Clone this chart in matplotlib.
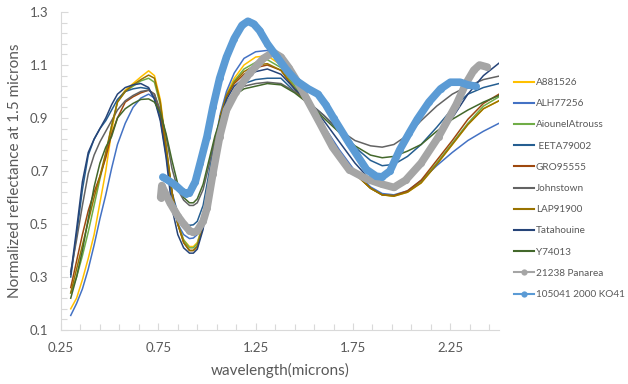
import matplotlib
matplotlib.use("Agg")
import matplotlib.pyplot as plt
from matplotlib.lines import Line2D

# wavelength grid (microns) shared by the nine meteorite spectra
wl = [0.30, 0.33, 0.36, 0.39, 0.42, 0.45, 0.48, 0.51, 0.54, 0.58,
      0.62, 0.66, 0.70, 0.73, 0.76, 0.79, 0.82, 0.85, 0.88, 0.91,
      0.93, 0.95, 0.98, 1.01, 1.04, 1.07, 1.10, 1.14, 1.19, 1.25,
      1.31, 1.38, 1.45, 1.52, 1.60, 1.68, 1.76, 1.84, 1.90, 1.96,
      2.03, 2.10, 2.18, 2.26, 2.34, 2.42, 2.50]

a881526 = [0.18, 0.22, 0.29, 0.37, 0.46, 0.58, 0.70, 0.85, 0.965, 1.005,
           1.03, 1.055, 1.078, 1.06, 0.97, 0.80, 0.62, 0.50, 0.44, 0.415,
           0.415, 0.43, 0.50, 0.64, 0.79, 0.91, 0.99, 1.05, 1.10, 1.13,
           1.135, 1.10, 1.02, 0.95, 0.86, 0.77, 0.69, 0.635, 0.61, 0.605,
           0.62, 0.655, 0.725, 0.80, 0.875, 0.935, 0.965]
alh77256 = [0.155, 0.20, 0.255, 0.33, 0.42, 0.52, 0.61, 0.71, 0.80, 0.88,
            0.94, 0.975, 0.99, 0.975, 0.90, 0.76, 0.60, 0.50, 0.46, 0.445,
            0.447, 0.46, 0.53, 0.67, 0.81, 0.92, 1.00, 1.07, 1.125, 1.15,
            1.155, 1.12, 1.03, 0.96, 0.87, 0.78, 0.70, 0.64, 0.615, 0.61,
            0.625, 0.665, 0.72, 0.77, 0.815, 0.85, 0.88]
aiounel = [0.24, 0.30, 0.38, 0.47, 0.57, 0.67, 0.76, 0.87, 0.96, 1.00,
           1.02, 1.04, 1.05, 1.035, 0.95, 0.79, 0.62, 0.50, 0.44, 0.41,
           0.41, 0.425, 0.50, 0.65, 0.80, 0.91, 0.98, 1.04, 1.085, 1.11,
           1.12, 1.09, 1.02, 0.95, 0.86, 0.77, 0.69, 0.635, 0.61, 0.607,
           0.623, 0.66, 0.73, 0.805, 0.88, 0.945, 0.98]
eeta79002 = [0.30, 0.46, 0.63, 0.76, 0.82, 0.86, 0.89, 0.93, 0.97, 1.00,
             1.01, 1.015, 1.01, 0.975, 0.90, 0.77, 0.62, 0.54, 0.505, 0.495,
             0.497, 0.51, 0.57, 0.69, 0.81, 0.90, 0.96, 1.00, 1.03, 1.045,
             1.05, 1.05, 1.00, 0.96, 0.91, 0.85, 0.79, 0.74, 0.72, 0.725,
             0.755, 0.80, 0.865, 0.935, 0.99, 1.015, 1.03]
gro95555 = [0.26, 0.36, 0.46, 0.55, 0.62, 0.68, 0.75, 0.84, 0.90, 0.96,
            0.98, 0.995, 1.005, 0.99, 0.92, 0.78, 0.62, 0.50, 0.43, 0.40,
            0.40, 0.415, 0.49, 0.64, 0.79, 0.91, 0.98, 1.03, 1.065, 1.09,
            1.10, 1.08, 1.01, 0.95, 0.86, 0.77, 0.69, 0.635, 0.61, 0.607,
            0.625, 0.665, 0.74, 0.815, 0.895, 0.955, 0.99]
johnstown = [0.32, 0.44, 0.57, 0.69, 0.76, 0.81, 0.85, 0.89, 0.93, 0.965,
             0.985, 1.00, 1.005, 0.99, 0.93, 0.83, 0.71, 0.63, 0.59, 0.57,
             0.57, 0.58, 0.63, 0.72, 0.82, 0.90, 0.95, 0.99, 1.02, 1.03,
             1.035, 1.03, 1.00, 0.96, 0.91, 0.855, 0.815, 0.795, 0.79, 0.80,
             0.835, 0.89, 0.945, 0.99, 1.02, 1.045, 1.058]
lap91900 = [0.24, 0.33, 0.42, 0.51, 0.60, 0.68, 0.77, 0.87, 0.96, 1.00,
            1.025, 1.045, 1.062, 1.05, 0.96, 0.79, 0.62, 0.50, 0.43, 0.40,
            0.40, 0.415, 0.49, 0.64, 0.79, 0.91, 0.985, 1.035, 1.075, 1.10,
            1.105, 1.08, 1.01, 0.95, 0.86, 0.77, 0.69, 0.635, 0.61, 0.605,
            0.62, 0.655, 0.725, 0.80, 0.875, 0.935, 0.965]
tatahouine = [0.31, 0.48, 0.66, 0.77, 0.82, 0.86, 0.90, 0.95, 0.99, 1.015,
              1.025, 1.03, 1.015, 0.97, 0.89, 0.75, 0.56, 0.46, 0.41, 0.39,
              0.39, 0.405, 0.48, 0.63, 0.78, 0.90, 0.97, 1.02, 1.05, 1.075,
              1.085, 1.065, 1.01, 0.96, 0.89, 0.81, 0.73, 0.665, 0.64, 0.64,
              0.67, 0.73, 0.82, 0.90, 0.99, 1.06, 1.107]
y74013 = [0.22, 0.30, 0.40, 0.52, 0.64, 0.73, 0.79, 0.83, 0.90, 0.935,
          0.955, 0.97, 0.972, 0.96, 0.92, 0.84, 0.74, 0.65, 0.60, 0.58,
          0.58, 0.595, 0.65, 0.74, 0.83, 0.90, 0.95, 0.985, 1.01, 1.02,
          1.03, 1.025, 0.995, 0.955, 0.90, 0.845, 0.795, 0.76, 0.75, 0.755,
          0.775, 0.80, 0.85, 0.895, 0.93, 0.96, 0.985]

# asteroid spectra, each with its own wavelengths
panarea_wl = [0.762, 0.768, 0.78, 0.81, 0.85, 0.88, 0.91, 0.93, 0.95, 0.98,
              1.00, 1.03, 1.065, 1.10, 1.15, 1.22, 1.29, 1.34, 1.38, 1.42,
              1.47, 1.51, 1.58, 1.645, 1.73, 1.82, 1.90, 1.96, 2.02, 2.10,
              2.19, 2.28, 2.33, 2.37, 2.40, 2.44]
panarea = [0.60, 0.645, 0.625, 0.58, 0.53, 0.50, 0.475, 0.468, 0.475, 0.51,
           0.56, 0.69, 0.83, 0.93, 1.00, 1.07, 1.125, 1.148, 1.13, 1.09,
           1.03, 0.975, 0.88, 0.79, 0.705, 0.67, 0.65, 0.638, 0.665, 0.73,
           0.83, 0.95, 1.03, 1.08, 1.10, 1.092]
ko41_wl = [0.773, 0.80, 0.84, 0.87, 0.89, 0.91, 0.94, 0.965, 1.00, 1.03,
           1.065, 1.10, 1.14, 1.18, 1.21, 1.24, 1.27, 1.31, 1.36, 1.41,
           1.46, 1.52, 1.57, 1.61, 1.65, 1.73, 1.82, 1.87, 1.90, 1.94,
           1.99, 2.04, 2.08, 2.14, 2.20, 2.25, 2.30, 2.34, 2.38]
ko41 = [0.677, 0.665, 0.645, 0.625, 0.615, 0.617, 0.66, 0.73, 0.83, 0.94,
        1.05, 1.13, 1.20, 1.25, 1.265, 1.255, 1.23, 1.18, 1.13, 1.08,
        1.04, 1.01, 0.99, 0.95, 0.90, 0.805, 0.705, 0.68, 0.678, 0.70,
        0.78, 0.845, 0.895, 0.96, 1.01, 1.035, 1.035, 1.025, 1.02]

meteorites = [
    ("A881526", a881526, "#FFC000"),
    ("ALH77256", alh77256, "#4472C4"),
    ("AiounelAtrouss", aiounel, "#70AD47"),
    (" EETA79002", eeta79002, "#255E91"),
    ("GRO95555", gro95555, "#9E480E"),
    ("Johnstown", johnstown, "#636363"),
    ("LAP91900", lap91900, "#997300"),
    ("Tatahouine", tatahouine, "#264478"),
    ("Y74013", y74013, "#43682B"),
]
asteroids = [
    ("21238 Panarea", panarea_wl, panarea, "#A5A5A5"),
    ("105041 2000 KO41", ko41_wl, ko41, "#5B9BD5"),
]

plt.rcParams['font.family'] = ['Lato', 'DejaVu Sans']
txt = "#595959"

fig = plt.figure(figsize=(6.28, 3.84), dpi=100)
ax = fig.add_axes([61 / 628, 1 - 330 / 384, 438 / 628, 318 / 384])

handles = []
for name, vals, col in meteorites:
    ax.plot(wl, vals, color=col, lw=1.1)
    handles.append(Line2D([], [], color=col, lw=1.5, label=name))
for name, x, vals, col in asteroids:
    ax.plot(x, vals, color=col, lw=5.5, marker='o', markersize=5,
            markeredgewidth=0, solid_capstyle='round', solid_joinstyle='round')
    handles.append(Line2D([], [], color=col, lw=1.5, marker='o',
                          markersize=4.5, markeredgewidth=0, label=name))

ax.set_xlim(0.25, 2.5)
ax.set_ylim(0.1, 1.3)
ax.set_xticks([0.25, 0.75, 1.25, 1.75, 2.25])
ax.set_xticklabels(["0.25", "0.75", "1.25", "1.75", "2.25"])
ax.set_xticks([0.35, 0.45, 0.55, 0.65, 0.85, 0.95, 1.05, 1.15, 1.35, 1.45,
               1.55, 1.65, 1.85, 1.95, 2.05, 2.15, 2.35, 2.45], minor=True)
ax.set_yticks([0.1, 0.3, 0.5, 0.7, 0.9, 1.1, 1.3])
ax.set_yticklabels(["0.1", "0.3", "0.5", "0.7", "0.9", "1.1", "1.3"])
ax.set_yticks([0.14, 0.18, 0.22, 0.26, 0.34, 0.38, 0.42, 0.46, 0.54, 0.58,
               0.62, 0.66, 0.74, 0.78, 0.82, 0.86, 0.94, 0.98, 1.02, 1.06,
               1.14, 1.18, 1.22, 1.26], minor=True)

for s in ("top", "right"):
    ax.spines[s].set_visible(False)
for s in ("left", "bottom"):
    ax.spines[s].set_color("#d9d9d9")
    ax.spines[s].set_linewidth(0.8)
ax.tick_params(which="both", direction="in", color="#d9d9d9", width=0.8,
               labelcolor=txt, labelsize=9.5)
ax.tick_params(which="major", length=5, pad=9)
ax.tick_params(which="minor", length=4)

ax.set_xlabel("wavelength(microns)", fontsize=11, color=txt, labelpad=6)
ax.set_ylabel("Normalized reflectance at 1.5 microns", fontsize=11,
              color=txt, labelpad=6)

fig.legend(handles=handles, loc="upper left", bbox_to_anchor=(514 / 628, 1 - 78 / 384),
           frameon=False, fontsize=7.2, handlelength=2.0, handletextpad=0.2,
           labelspacing=1.22, labelcolor=txt, borderaxespad=0, borderpad=0)

fig.savefig("out.png", dpi=100)
